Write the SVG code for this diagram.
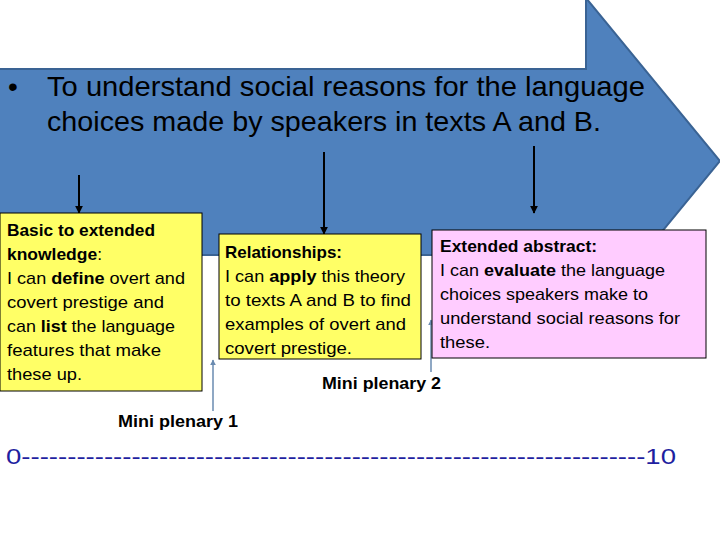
<svg xmlns="http://www.w3.org/2000/svg" width="720" height="540" viewBox="0 0 720 540">
<style>
text{font-family:"Liberation Sans",Arial,sans-serif;fill:#000}
.t{font-size:28px}
.b{font-size:17px}
.bold{font-weight:bold}
.box{stroke:#000;stroke-width:1}
.blk{stroke:#000;stroke-width:2;fill:none}
.blu{stroke:#6a8bb0;stroke-width:1.5;fill:none}
</style>
<defs>
<marker id="ah" viewBox="0 0 10 10" refX="9" refY="5" markerWidth="4" markerHeight="4" orient="auto"><path d="M0,0L10,5L0,10z" fill="#000"/></marker>
<marker id="ab" viewBox="0 0 10 10" refX="9" refY="5" markerWidth="4" markerHeight="4" orient="auto"><path d="M0,0L10,5L0,10z" fill="#6a8bb0"/></marker>
</defs>
<rect width="720" height="540" fill="#fff"/>
<g id="bigArrow">
<path d="M-2,69H586V-2L720,161L586,324V255H-2Z" fill="#4f81bd" stroke="#3a6394" stroke-width="2"/>
<text class="t" x="8" y="96">•</text>
<text class="t" x="47" y="96" textLength="598" lengthAdjust="spacingAndGlyphs">To understand social reasons for the language</text>
<text class="t" x="47" y="131" textLength="554" lengthAdjust="spacingAndGlyphs">choices made by speakers in texts A and B.</text>
</g>
<g id="connectors">
<line class="blk" x1="79" y1="175" x2="79" y2="213" marker-end="url(#ah)"/>
<line class="blk" x1="324" y1="152" x2="324" y2="234" marker-end="url(#ah)"/>
<line class="blk" x1="534" y1="146" x2="534" y2="213" marker-end="url(#ah)"/>
<line class="blu" x1="213" y1="411" x2="213" y2="360" marker-end="url(#ab)"/>
<line class="blu" x1="431" y1="372" x2="431" y2="320" marker-end="url(#ab)"/>
</g>
<g id="box1">
<rect class="box" x="0" y="213" width="202" height="178" fill="#ffff66"/>
<text class="b bold" x="7" y="236" textLength="148" lengthAdjust="spacingAndGlyphs">Basic to extended</text>
<text class="b" x="7" y="260" textLength="95" lengthAdjust="spacingAndGlyphs"><tspan class="bold">knowledge</tspan>:</text>
<text class="b" x="7" y="284" textLength="178" lengthAdjust="spacingAndGlyphs">I can <tspan class="bold">define</tspan> overt and</text>
<text class="b" x="7" y="308" textLength="157" lengthAdjust="spacingAndGlyphs">covert prestige and</text>
<text class="b" x="7" y="332" textLength="168" lengthAdjust="spacingAndGlyphs">can <tspan class="bold">list</tspan> the language</text>
<text class="b" x="7" y="356" textLength="154" lengthAdjust="spacingAndGlyphs">features that make</text>
<text class="b" x="7" y="380" textLength="75" lengthAdjust="spacingAndGlyphs">these up.</text>
</g>
<g id="box2">
<rect class="box" x="219" y="234" width="202" height="125" fill="#ffff66"/>
<text class="b bold" x="225" y="258" textLength="117" lengthAdjust="spacingAndGlyphs">Relationships:</text>
<text class="b" x="225" y="282" textLength="180" lengthAdjust="spacingAndGlyphs">I can <tspan class="bold">apply</tspan> this theory</text>
<text class="b" x="225" y="306" textLength="186" lengthAdjust="spacingAndGlyphs">to texts A and B to find</text>
<text class="b" x="225" y="330" textLength="181" lengthAdjust="spacingAndGlyphs">examples of overt and</text>
<text class="b" x="225" y="354" textLength="127" lengthAdjust="spacingAndGlyphs">covert prestige.</text>
</g>
<g id="box3">
<rect class="box" x="432" y="230" width="274" height="128" fill="#ffccff"/>
<text class="b bold" x="440" y="252" textLength="157" lengthAdjust="spacingAndGlyphs">Extended abstract:</text>
<text class="b" x="440" y="276" textLength="225" lengthAdjust="spacingAndGlyphs">I can <tspan class="bold">evaluate</tspan> the language</text>
<text class="b" x="440" y="300" textLength="208" lengthAdjust="spacingAndGlyphs">choices speakers make to</text>
<text class="b" x="440" y="324" textLength="240" lengthAdjust="spacingAndGlyphs">understand social reasons for</text>
<text class="b" x="440" y="348" textLength="50" lengthAdjust="spacingAndGlyphs">these.</text>
</g>
<g id="labels">
<text class="b bold" x="322" y="389" textLength="119" lengthAdjust="spacingAndGlyphs">Mini plenary 2</text>
<text class="b bold" x="118" y="427" textLength="120" lengthAdjust="spacingAndGlyphs">Mini plenary 1</text>
<text x="6" y="464" font-size="22" style="fill:#1f1fa0" textLength="670" lengthAdjust="spacingAndGlyphs">0--------------------------------------------------------------------10</text>
</g>
</svg>
